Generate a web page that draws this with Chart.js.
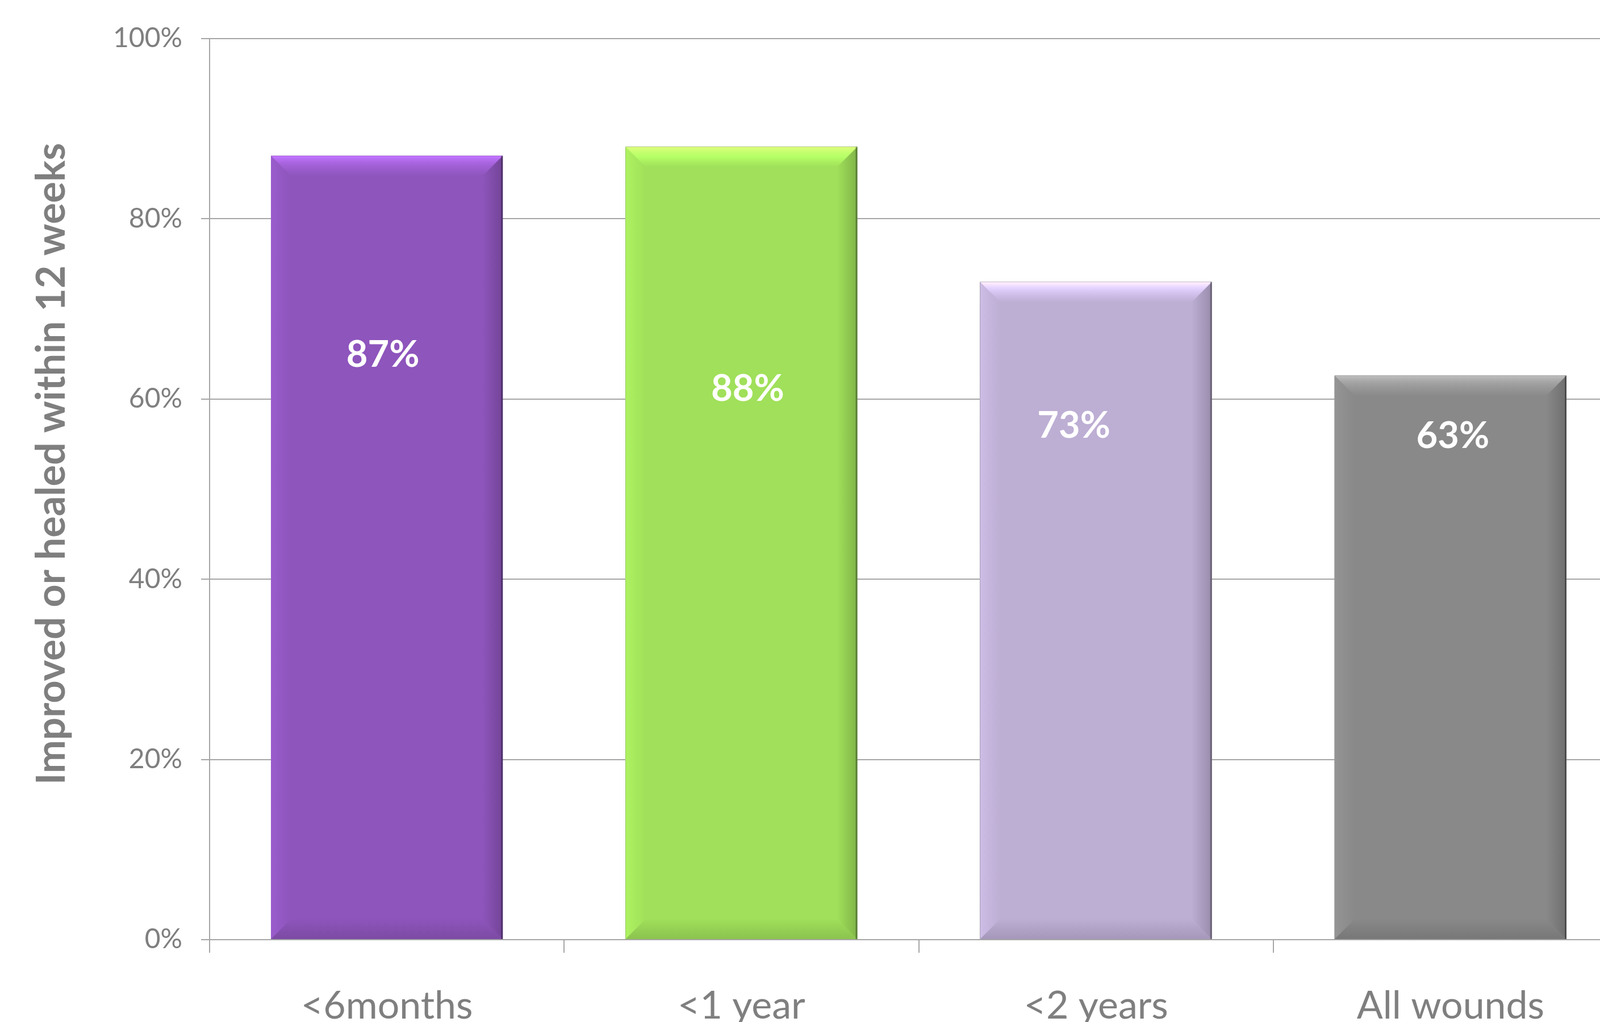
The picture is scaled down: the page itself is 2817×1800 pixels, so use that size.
<!DOCTYPE html>
<html>
<head>
<meta charset="utf-8">
<script src="https://cdn.jsdelivr.net/npm/chart.js@4.4.0/dist/chart.umd.min.js"></script>
<style>
  html,body{margin:0;padding:0;background:#fff;overflow:hidden;}
  #wrap{position:relative;width:2880px;height:1800px;}
</style>
</head>
<body>
<div id="wrap"><canvas id="healChart"></canvas></div>
<script>
/* ===== Data ===== */
const CATEGORIES = ['<6months','<1 year','<2 years','All wounds'];
const HEALED_PCT = [87, 88, 73, 62.6];
const BAR_COLORS = ['#8e55bc','#a0e05a','#bdaed4','#898989'];
const Y_TICKS = [0, 20, 40, 60, 80, 100];
const Y_TITLE = 'Improved or healed within 12 weeks';

const GREY = '#7f7f7f';
const LINE = '#a6a6a6';

/* ===== Plugins ===== */
// soft bevel on each bar, like the office "bevel" shape effect
const bevelPlugin = {
  id:'bevel',
  afterDatasetsDraw(chart){
    const c = chart.ctx;
    chart.getDatasetMeta(0).data.forEach(bar => {
      const {x, y, base, width} = bar.getProps(['x','y','base','width'], true);
      const l = x - width/2, r = x + width/2, t = y, b = base, s = 36;
      const shape = (pts, grad, op) => {
        c.save();
        c.globalCompositeOperation = op;
        c.beginPath();
        pts.forEach((p,i) => i ? c.lineTo(p[0],p[1]) : c.moveTo(p[0],p[1]));
        c.closePath();
        c.fillStyle = grad;
        c.fill();
        c.restore();
      };
      let g;
      // left (lighter)
      g = c.createLinearGradient(l,0,l+s,0);
      g.addColorStop(0,'rgb(20,20,20)'); g.addColorStop(1,'rgb(0,0,0)');
      shape([[l,t],[l+s,t+s],[l+s,b-s],[l,b]], g, 'color-dodge');
      // right (darker)
      g = c.createLinearGradient(r,0,r-s,0);
      g.addColorStop(0,'rgb(205,205,205)'); g.addColorStop(1,'rgb(255,255,255)');
      shape([[r,t],[r-s,t+s],[r-s,b-s],[r,b]], g, 'multiply');
      // top (highlight)
      g = c.createLinearGradient(0,t,0,t+s);
      g.addColorStop(0,'rgb(72,72,72)'); g.addColorStop(0.35,'rgb(40,40,40)'); g.addColorStop(1,'rgb(0,0,0)');
      shape([[l,t],[r,t],[r-s,t+s],[l+s,t+s]], g, 'color-dodge');
      // bottom (shade)
      g = c.createLinearGradient(0,b,0,b-s);
      g.addColorStop(0,'rgb(222,222,222)'); g.addColorStop(1,'rgb(255,255,255)');
      shape([[l,b],[r,b],[r-s,b-s],[l+s,b-s]], g, 'multiply');
      // thin dark outline on the right edge
      c.save();
      c.globalCompositeOperation = 'multiply';
      c.fillStyle = 'rgb(175,175,175)';
      c.fillRect(r-3, t, 3, b-t);
      c.restore();
    });
  }
};

// white value labels inside the bars (placed by hand in the original)
const valueLabels = {
  id:'valueLabels',
  afterDatasetsDraw(chart, args, opts){
    const c = chart.ctx, yS = chart.scales.y;
    const ds = chart.data.datasets[0];
    c.save();
    c.fillStyle = '#ffffff';
    c.font = 'bold 65px Lato, sans-serif';
    c.textAlign = 'center';
    c.textBaseline = 'middle';
    chart.getDatasetMeta(0).data.forEach((bar, i) => {
      const txt = Math.round(ds.data[i]) + '%';
      c.fillText(txt, bar.x + opts.dx[i], yS.getPixelForValue(opts.at[i]));
    });
    c.restore();
  }
};

// rotated y-axis title, a little above the middle of the plot
const sideTitle = {
  id:'sideTitle',
  afterDraw(chart){
    const c = chart.ctx, a = chart.chartArea;
    c.save();
    c.translate(114, a.top + (a.bottom - a.top) * 0.472);
    c.rotate(-Math.PI/2);
    c.font = 'bold 70px Lato, sans-serif';
    c.fillStyle = GREY;
    c.textAlign = 'center';
    c.textBaseline = 'alphabetic';
    c.fillText(Y_TITLE, 0, 0);
    c.restore();
  }
};

/* ===== Chart ===== */
new Chart(document.getElementById('healChart'), {
  type:'bar',
  plugins:[bevelPlugin, valueLabels, sideTitle],
  data:{
    labels:CATEGORIES,
    datasets:[{
      data:HEALED_PCT,
      backgroundColor:BAR_COLORS,
      borderWidth:0,
      barPercentage:0.654,
      categoryPercentage:1
    }]
  },
  options:{
    responsive:true, maintainAspectRatio:false, animation:false,
    layout:{padding:{left:0, right:14, top:68, bottom:0}},
    plugins:{
      legend:{display:false},
      tooltip:{enabled:false},
      valueLabels:{at:[64.9, 61.1, 57.0, 55.9], dx:[-7, 11, -39, 4]}
    },
    scales:{
      x:{
        offset:true,
        grid:{offset:true, drawOnChartArea:false, drawTicks:true, tickLength:23, color:LINE, lineWidth:2},
        border:{color:LINE, width:2},
        ticks:{font:{family:'Lato', size:68}, color:GREY, padding:53},
        afterFit(s){ s.height = 145; }
      },
      y:{
        min:0, max:100,
        afterBuildTicks(s){ s.ticks = Y_TICKS.map(v => ({value:v})); },
        ticks:{callback:v => v + '%', font:{family:'Lato', size:48}, color:GREY, padding:33},
        grid:{color:LINE, lineWidth:2, tickLength:15},
        border:{color:LINE, width:2},
        afterFit(s){ s.width = 369; }
      }
    }
  }
});
</script>
</body>
</html>
